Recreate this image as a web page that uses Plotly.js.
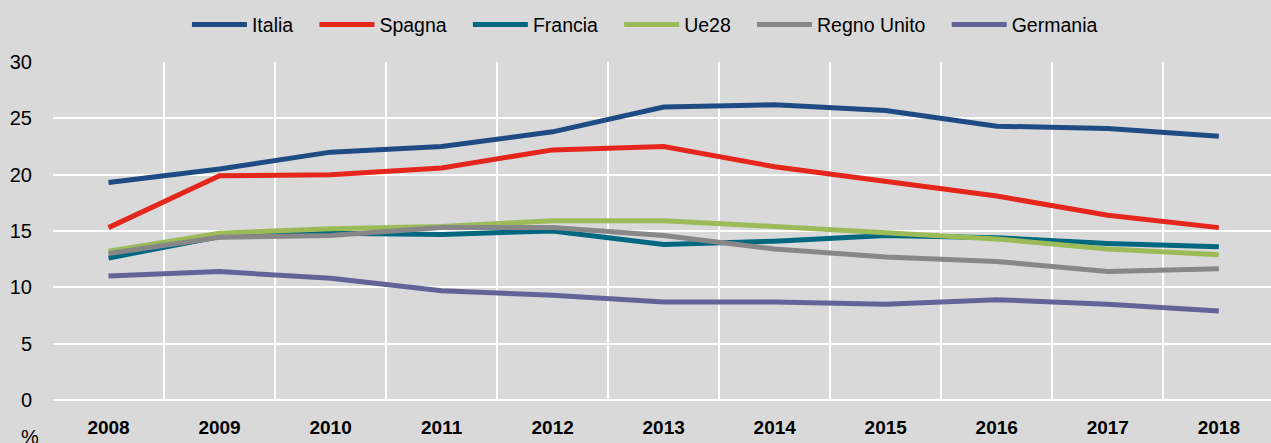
<!DOCTYPE html>
<html>
<head>
<meta charset="utf-8">
<script src="https://cdn.plot.ly/plotly-3.0.1.min.js"></script>
<style>html,body{margin:0;padding:0;background:#d9d9d9;}#chart{width:1271px;height:443px;}</style>
</head>
<body>
<div id="chart"></div>
<script>
const years = ["2008","2009","2010","2011","2012","2013","2014","2015","2016","2017","2018"];
const italia = [19.3, 20.5, 22.0, 22.5, 23.8, 26.0, 26.2, 25.7, 24.3, 24.1, 23.4];
const spagna = [15.3, 19.9, 20.0, 20.6, 22.2, 22.5, 20.7, 19.4, 18.1, 16.4, 15.3];
const francia = [12.6, 14.5, 14.8, 14.7, 15.0, 13.8, 14.1, 14.6, 14.4, 13.9, 13.6];
const ue28 = [13.2, 14.8, 15.2, 15.4, 15.9, 15.9, 15.4, 14.8, 14.3, 13.4, 12.9];
const regnoUnito = [13.0, 14.45, 14.6, 15.3, 15.3, 14.6, 13.4, 12.7, 12.3, 11.4, 11.65];
const germania = [11.0, 11.4, 10.8, 9.7, 9.3, 8.7, 8.7, 8.5, 8.9, 8.5, 7.9];

const seriesNames = ["Italia","Spagna","Francia","Ue28","Regno Unito","Germania"];
const seriesData = [italia, spagna, francia, ue28, regnoUnito, germania];
const colors = ["#1f4b84","#e5261c","#006780","#9bbb59","#878787","#646399"];

const FONT = "Liberation Sans, Arial, sans-serif";
const PAD = "\u00a0\u00a0\u00a0";

const traces = seriesNames.map((n,i)=>({
  x: years, y: seriesData[i], name: n + (i < seriesNames.length - 1 ? PAD : ""),
  type: "scatter", mode: "lines",
  line: {color: colors[i], width: 5}
}));

const layout = {
  width: 1271, height: 443,
  paper_bgcolor: "#d9d9d9", plot_bgcolor: "#d9d9d9",
  margin: {l: 53, r: 0, t: 62, b: 43},
  font: {family: FONT, color: "#000"},
  showlegend: true,
  legend: {orientation: "h", x: 0.486, xanchor: "center", y: 1.11, yanchor: "middle",
           font: {size: 19.5, color: "#000", family: FONT}, bgcolor: "rgba(0,0,0,0)", itemwidth: 55, traceorder: "normal"},
  xaxis: {type: "category", tickson: "boundaries", range: [-0.5, 10.47],
          showgrid: true, gridcolor: "#ffffff", gridwidth: 2,
          ticks: "", showline: false, zeroline: false,
          tickfont: {size: 19, family: FONT, weight: "bold"},
          ticklabelstandoff: 14},
  yaxis: {range: [0, 30], dtick: 5, showgrid: true, gridcolor: "#ffffff", gridwidth: 2,
          zeroline: true, zerolinecolor: "#ffffff", zerolinewidth: 2,
          ticks: "", tickfont: {size: 20, family: FONT}, ticklabelstandoff: 20, fixedrange: true},
  annotations: [{text: "%", xref: "paper", yref: "paper", x: -0.019, y: -0.11,
                 xanchor: "center", yanchor: "middle", showarrow: false, font: {size: 20, family: FONT}}]
};

Plotly.newPlot("chart", traces, layout, {displayModeBar: false, staticPlot: true});
</script>
</body>
</html>
